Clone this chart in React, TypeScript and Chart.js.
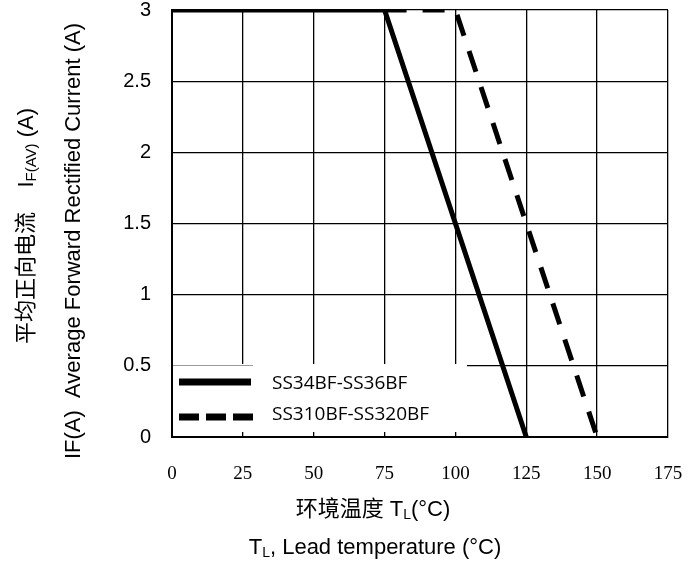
import { useEffect, useRef } from 'react';
import { Chart, registerables } from 'chart.js';

Chart.register(...registerables);

// ---- data ----
const xTickValues = [0, 25, 50, 75, 100, 125, 150, 175];
const xTickLabels = ['0', '25', '50', '75', '100', '125', '150', '175'];
const yTickValues = [0, 0.5, 1, 1.5, 2, 2.5, 3];
const yTickLabels = ['0', '0.5', '1', '1.5', '2', '2.5', '3'];
const seriesNames = ['SS34BF-SS36BF', 'SS310BF-SS320BF'];
const solidTemp = [0, 75, 125];
const solidCurrent = [3, 3, 0];
const dashedTemp = [75, 100, 150];
const dashedCurrent = [3, 3, 0];

const SANS = '"Liberation Sans", Arial, "Noto Sans CJK SC", sans-serif';
const SERIF = '"Liberation Serif", "Times New Roman", serif';
const LEGEND_FONT = '"Open Sans", "Noto Sans", sans-serif';

type Seg = { t: string; size: number; dy?: number };

function drawRich(ctx: CanvasRenderingContext2D, segs: Seg[], cx: number, baseline: number) {
  let total = 0;
  const widths: number[] = [];
  for (const s of segs) {
    ctx.font = `${s.size}px ${SANS}`;
    const w = ctx.measureText(s.t).width;
    widths.push(w);
    total += w;
  }
  let x = cx - total / 2;
  ctx.textAlign = 'left';
  ctx.textBaseline = 'alphabetic';
  segs.forEach((s, i) => {
    ctx.font = `${s.size}px ${SANS}`;
    ctx.fillText(s.t, x, baseline + (s.dy || 0));
    x += widths[i];
  });
}

const decorPlugin = {
  id: 'decor',
  afterDraw(chart: any) {
    const ctx: CanvasRenderingContext2D = chart.ctx;
    ctx.save();
    ctx.fillStyle = '#000';

    // x-axis titles
    drawRich(ctx, [
      { t: '环境温度 T', size: 22 },
      { t: 'L', size: 14, dy: 3 },
      { t: '(°C)', size: 22 },
    ], 373, 516);
    drawRich(ctx, [
      { t: 'T', size: 22 },
      { t: 'L', size: 14, dy: 3 },
      { t: ', Lead temperature (°C)', size: 22 },
    ], 375, 554);

    // y-axis titles (rotated)
    ctx.save();
    ctx.translate(0, 226);
    ctx.rotate(-Math.PI / 2);
    drawRich(ctx, [
      { t: '平均正向电流    I', size: 22 },
      { t: 'F(AV)', size: 15, dy: 3 },
      { t: ' (A)', size: 22 },
    ], 0, 33);
    ctx.restore();
    ctx.save();
    ctx.translate(0, 241);
    ctx.rotate(-Math.PI / 2);
    drawRich(ctx, [
      { t: 'IF(A)  Average Forward Rectified Current (A)', size: 22 },
    ], 0, 80);
    ctx.restore();

    // legend
    ctx.fillStyle = '#fff';
    ctx.fillRect(173, 364, 294, 68);
    ctx.strokeStyle = '#9a9a9a';
    ctx.lineWidth = 1;
    ctx.beginPath();
    ctx.moveTo(173, 365.5);
    ctx.lineTo(253, 365.5);
    ctx.stroke();

    const ds = chart.data.datasets;
    ctx.strokeStyle = '#000';
    ctx.lineWidth = 7;
    ctx.beginPath();
    ctx.setLineDash([]);
    ctx.moveTo(179, 382);
    ctx.lineTo(251, 382);
    ctx.stroke();
    ctx.beginPath();
    ctx.setLineDash([20, 7]);
    ctx.moveTo(179, 417);
    ctx.lineTo(253, 417);
    ctx.stroke();
    ctx.setLineDash([]);

    ctx.fillStyle = '#000';
    ctx.font = `19px ${LEGEND_FONT}`;
    ctx.textAlign = 'left';
    ctx.textBaseline = 'middle';
    ctx.fillText(ds[0].label, 272, 384);
    ctx.fillText(ds[1].label, 272, 415);
    ctx.restore();
  },
};

export default function App() {
  const ref = useRef<HTMLCanvasElement>(null);
  useEffect(() => {
    const canvas = ref.current;
    if (!canvas) return;
    const chart = new Chart(canvas, {
      type: 'scatter',
      data: {
        datasets: [
          {
            label: seriesNames[0],
            data: solidTemp.map((x, i) => ({ x, y: solidCurrent[i] })),
            showLine: true,
            borderColor: '#000',
            backgroundColor: '#000',
            borderWidth: 5,
            pointRadius: 0,
            tension: 0,
            fill: false,
          },
          {
            label: seriesNames[1],
            data: dashedTemp.map((x, i) => ({ x, y: dashedCurrent[i] })),
            showLine: true,
            borderColor: '#000',
            backgroundColor: '#000',
            borderWidth: 5,
            borderDash: [22, 16],
            pointRadius: 0,
            tension: 0,
            fill: false,
          },
        ],
      },
      options: {
        animation: false,
        responsive: false,
        devicePixelRatio: 1,
        layout: { padding: { top: 10, right: 31, left: 0, bottom: 0 } },
        plugins: { legend: { display: false }, tooltip: { enabled: false } },
        scales: {
          x: {
            type: 'linear',
            min: 0,
            max: 175,
            afterFit: (s: any) => { s.height = 125; s.paddingLeft = 0; s.paddingRight = 0; },
            afterBuildTicks: (s: any) => { s.ticks = xTickValues.map((v) => ({ value: v })); },
            ticks: {
              color: '#000',
              font: { family: SERIF, size: 19, lineHeight: 1 },
              padding: 28,
              maxRotation: 0,
              callback: (v: any) => { const i = xTickValues.indexOf(Number(v)); return i >= 0 ? xTickLabels[i] : ''; },
            },
            grid: { color: '#000', lineWidth: 1.3, drawTicks: false },
            border: { color: '#000', width: 2 },
          },
          y: {
            type: 'linear',
            min: 0,
            max: 3,
            afterFit: (s: any) => { s.width = 172; s.paddingTop = 0; s.paddingBottom = 0; },
            afterBuildTicks: (s: any) => { s.ticks = yTickValues.map((v) => ({ value: v })); },
            ticks: {
              color: '#000',
              font: { family: SANS, size: 20, lineHeight: 1 },
              padding: 21,
              callback: (v: any) => { const i = yTickValues.indexOf(Number(v)); return i >= 0 ? yTickLabels[i] : ''; },
            },
            grid: { color: '#000', lineWidth: 1.3, drawTicks: false },
            border: { color: '#000', width: 2 },
          },
        },
      },
      plugins: [decorPlugin],
    } as any);
    return () => chart.destroy();
  }, []);
  return (
    <div style={{ position: 'absolute', left: 0, top: 0, width: 699, height: 562, background: '#fff' }}>
      <canvas ref={ref} width={699} height={562} style={{ display: 'block' }} />
    </div>
  );
}
